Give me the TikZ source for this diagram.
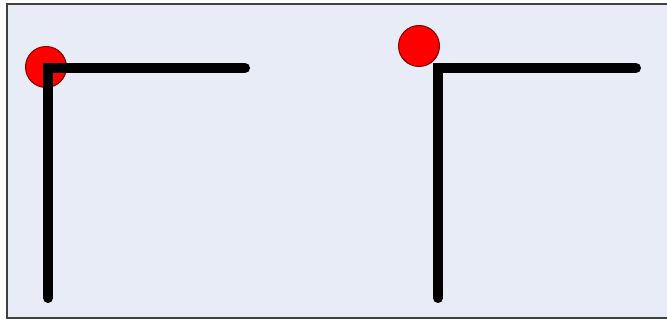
\documentclass[tikz,border=0pt]{standalone}
\begin{document}
\begin{tikzpicture}[x=1pt,y=-1pt,
  frame/.style={draw=black!75,line width=1.6pt,fill=bgblue},
  barline/.style={line width=10pt,line cap=round,line join=miter,draw=black},
  ball/.style={circle,draw=red!50!black,line width=1pt,fill=red,minimum size=41pt,inner sep=0pt}]
\definecolor{bgblue}{HTML}{E8ECF6}
\useasboundingbox (0,0) rectangle (667,320);
\fill[white] (0,0) rectangle (667,320);
\draw[frame] (7,4) rectangle (670,318);
% left
\node[ball] (b1) at (46,67) {};
\coordinate (l1top) at (245,68);
\coordinate (l1c) at (48,68);
\coordinate (l1bot) at (48,298);
\draw[barline] (l1top) -- (l1c) -- (l1bot);
% right
\node[ball] (b2) at (419,46) {};
\coordinate (l2top) at (636,68);
\coordinate (l2c) at (438,68);
\coordinate (l2bot) at (438,298);
\draw[barline] (l2top) -- (l2c) -- (l2bot);
\end{tikzpicture}
\end{document}
